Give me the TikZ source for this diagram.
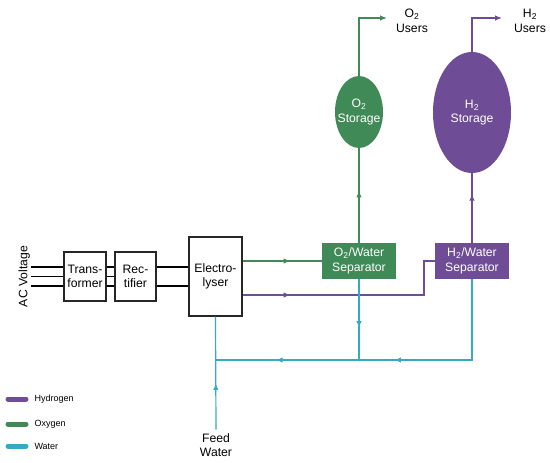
\documentclass[tikz,border=0pt]{standalone}
\usepackage{fontspec}
\setmainfont{Liberation Sans}
\usetikzlibrary{positioning,shapes.geometric,arrows.meta,decorations.markings}
\definecolor{oxy}{HTML}{3F8A57}
\definecolor{hyd}{HTML}{6E4C96}
\definecolor{wat}{HTML}{35AAC2}

\begin{document}
\begin{tikzpicture}[x=1pt, y=-1pt,
                      every node/.style = {font=\fontsize{12.2}{14.5}\selectfont, align=center},
                      unit/.style = {shape=rectangle, draw=black!85, line width=1.3pt,
                        minimum height=49pt, inner sep=0pt},
                      sep/.style = {shape=rectangle, fill=#1, text=white,
                        minimum width=74pt, minimum height=36pt, inner sep=0pt},
                      tank/.style = {ellipse, fill=#1, inner sep=0pt},
                      pipe/.style = {draw=#1, line width=1.2pt},
                      midarrow/.style = {postaction={decorate, decoration={markings,
                        mark=at position #1 with {\arrow{Latex[length=6.5pt,width=5.5pt]}}}}},
                      legendbar/.style = {draw=#1, line width=5pt, line cap=round}]
  \useasboundingbox (0,0) rectangle (550,463);

  \node[rotate=90, anchor=south, inner sep=1pt] (ac) at (31,276.5) {AC Voltage};
  \node[unit, minimum width=42pt] (trans) at (85,276.5) {Trans-\\former};
  \node[unit, minimum width=41pt] (rect) at (135.5,276.5) {Rec-\\tifier};
  \node[unit, minimum width=53pt, minimum height=79pt] (elec) at (215.5,276.5) {Electro-\\lyser};
  \node[sep=oxy] (o2sep) at (359,261) {O\textsubscript{2}/Water\\Separator};
  \node[sep=hyd] (h2sep) at (472,261) {H\textsubscript{2}/Water\\Separator};
  \node[tank=oxy, minimum width=48pt, minimum height=72pt] (o2tank) at (359,112) {};
  \node[text=white] (o2label) at (o2tank) {O\textsubscript{2}\\Storage};
  \node[tank=hyd, minimum width=78pt, minimum height=121pt] (h2tank) at (472,112.5) {};
  \node[text=white] (h2label) at (h2tank) {H\textsubscript{2}\\Storage};
  \node (o2users) at (412,21) {O\textsubscript{2}\\Users};
  \node (h2users) at (530,21) {H\textsubscript{2}\\Users};
  \node (feed) at (216,445) {Feed\\Water};

  \coordinate (o2out) at (387,18);
  \coordinate (h2out) at (502,18);
  \coordinate (hbend) at (424,295);
  \coordinate (wjoin) at (215.5,360);

  \foreach \dy in {-9.5,0,9.5} {
    \draw[line width=1.1pt] ([yshift=\dy pt]ac.south) -- ([yshift=\dy pt]trans.west);
    \draw[line width=1.1pt] ([yshift=\dy pt]trans.east) -- ([yshift=\dy pt]rect.west);
  }
  \foreach \dy in {-9.5,9.5}
    \draw[line width=1.1pt] ([yshift=\dy pt]rect.east) -- ([yshift=\dy pt]elec.west);

  \draw[pipe=oxy, midarrow=0.6] (elec.east |- o2sep) -- (o2sep.west);
  \draw[pipe=hyd, midarrow=0.21] (elec.east |- hbend) -- (hbend) |- (h2sep.west);
  \draw[pipe=oxy, midarrow=0.55] (o2sep.north) -- (o2tank.south);
  \draw[pipe=hyd, midarrow=0.7] (h2sep.north) -- (h2tank.south);
  \draw[pipe=oxy, -{Latex[length=7pt,width=5.5pt]}] (o2tank.north) |- (o2out);
  \draw[pipe=hyd, -{Latex[length=7pt,width=5.5pt]}] (h2tank.north) |- (h2out);
  \draw[pipe=wat, midarrow=0.6] (o2sep.south) -- (o2sep.south |- wjoin);
  \draw[pipe=wat, midarrow=0.47, midarrow=0.82] (h2sep.south) |- (wjoin);
  \draw[pipe=wat, midarrow=0.41] (feed.north) -- (elec.south);

  \foreach \name/\col/\y in {Hydrogen/hyd/399, Oxygen/oxy/424, Water/wat/446} {
    \draw[legendbar=\col] (8,\y) -- (26,\y);
    \node[anchor=west, font=\fontsize{9}{10}\selectfont] (\name) at (31,\y) {\name};
  }
\end{tikzpicture}
\end{document}
